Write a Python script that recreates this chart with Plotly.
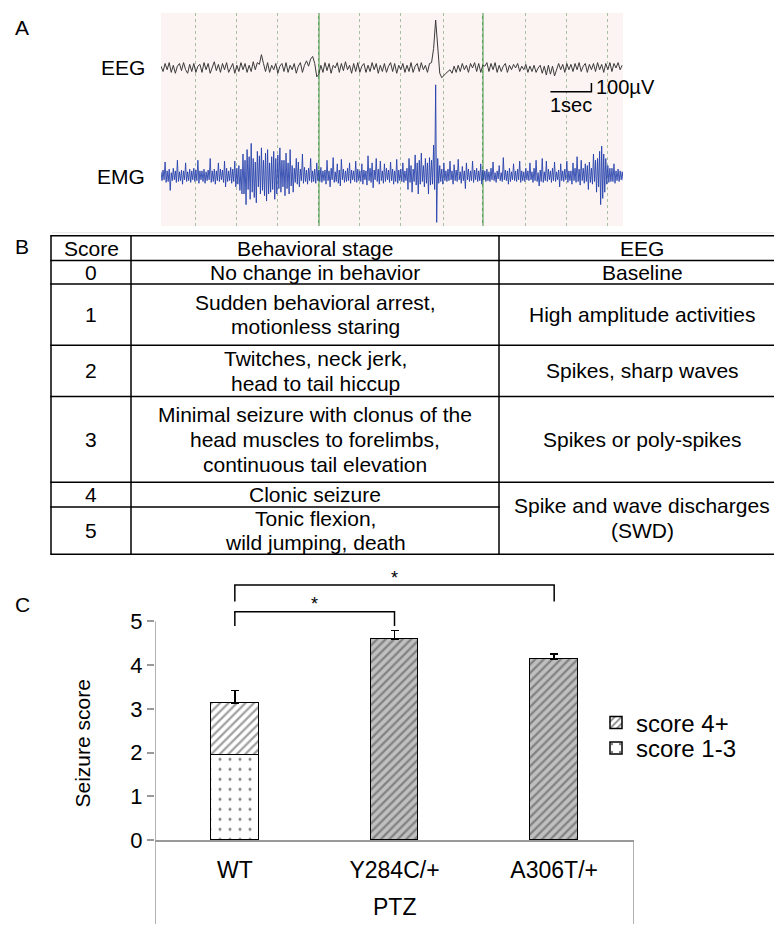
import plotly.graph_objects as go

W, H = 782, 929
FONT = "Liberation Sans, Arial, Helvetica, sans-serif"

# ---------------- Panel A data (µV, one value per 0.05 s) ----------------
DT = 0.05
EEG_UV = [
    20, -40, 50, -20, 60, -50, 30, -60, 20, 50, -30, 60, -20, -60, 40, -40, 50, -50, 20, 40,
    -50, 60, -20, 50, -60, 20, 70, -30, 40, -50, 50, -20, 60, -50, 10, 50, -60, 30, -40, 60,
    -20, 50, -50, 30, -40, 70, -20, 60, 40, 150, 50, -40, 60, -50, 30, -20, 50, -60, 20, 50,
    -40, 60, -50, 30, -20, 50, -60, 20, 60, -50, 30, 80, 20, 100, 130, 50, -100, -70, 30, -50,
    60, -30, 50, -60, 30, 0, 60, -50, 50, -30, 70, -20, 30, -60, 50, -40, 60, -50, 20, 50,
    -50, 30, -40, 60, -20, 50, -60, 30, -40, 50, -50, 20, 60, -40, 50, -60, 30, -20, 50, -50,
    30, -40, 60, -50, 20, 50, -40, 60, -20, 30, -50, 50, 60, 220, 540, 240, -60, -110, -80, -60,
    -40, -20, -60, 20, -50, 30, -40, 50, -20, 30, -50, 50, 0, 60, -40, 50, -50, 30, 20, 60,
    -40, 50, -20, 60, -50, 30, -40, 20, 50, -50, 30, -20, 40, 0, 50, -40, 20, -20, 40, -50,
    20, -40, 30, -50, 0, 30, -60, 20, -80, 30, -70, 20, -90, -30, 50, -20, 40, -50, 50, -20,
    40, -40, 50, -20, 60, -40, 20, 50, -50, 40, -20, 50, -40, 60, -20, 40, -50, 50, -20, 60,
    -40, 50, 0, 60, -20, 30,
]
# EMG: positive and negative peak per 0.05 s bin
EMG_HI = [
    50, 70, 160, 60, 80, 40, 90, 60, 180, 50, 70, 60, 150, 50, 80, 60, 90, 70, 180, 60,
    60, 80, 50, 70, 200, 60, 80, 60, 150, 80, 70, 170, 90, 60, 100, 80, 170, 90, 120, 80,
    250, 180, 300, 220, 370, 200, 160, 280, 230, 320, 180, 260, 300, 150, 220, 280, 200, 240, 320, 180,
    180, 260, 150, 300, 120, 90, 200, 160, 80, 250, 100, 70, 90, 200, 60, 80, 150, 70, 100, 60,
    70, 180, 60, 90, 210, 50, 140, 70, 190, 80, 60, 90, 150, 70, 60, 170, 80, 60, 140, 70,
    60, 230, 90, 150, 70, 200, 80, 170, 60, 140, 90, 70, 160, 80, 60, 190, 70, 80, 150, 60,
    90, 200, 120, 80, 240, 150, 180, 260, 120, 200, 150, 210, 180, 350, 1030, 200, 120, 80, 150, 60,
    80, 170, 60, 130, 70, 190, 50, 110, 60, 150, 80, 60, 170, 70, 90, 60, 140, 70, 60, 80,
    50, 90, 160, 40, 60, 120, 40, 210, 70, 60, 90, 50, 140, 60, 80, 170, 60, 50, 90, 60,
    150, 50, 90, 180, 40, 70, 200, 50, 170, 80, 60, 90, 160, 50, 70, 140, 60, 80, 170, 60,
    60, 150, 90, 220, 80, 180, 90, 140, 120, 160, 90, 250, 180, 200, 280, 340, 250, 200, 120, 90,
    90, 140, 60, 80, 60, 50,
]
EMG_LO = [
    -50, -40, -70, -60, -160, -50, -40, -70, -60, -50, -90, -40, -60, -50, -70, -40, -60, -50, -80, -40,
    -60, -80, -50, -40, -70, -60, -90, -50, -60, -40, -70, -120, -60, -50, -80, -60, -120, -90, -160, -200,
    -200, -320, -150, -260, -180, -240, -300, -120, -200, -160, -220, -280, -200, -180, -150, -260, -200, -140, -180, -120,
    -220, -140, -200, -110, -180, -70, -90, -120, -50, -80, -60, -90, -50, -70, -60, -80, -50, -60, -70, -50,
    -90, -50, -120, -40, -70, -60, -80, -110, -40, -70, -60, -50, -80, -40, -60, -70, -50, -60, -90, -40,
    -100, -50, -70, -130, -40, -60, -90, -50, -80, -60, -40, -70, -50, -90, -60, -80, -50, -60, -70, -50,
    -150, -70, -180, -60, -100, -200, -90, -60, -120, -80, -200, -100, -90, -150, -520, -80, -60, -90, -50, -60,
    -50, -40, -90, -50, -60, -40, -80, -50, -140, -40, -60, -50, -70, -40, -60, -50, -90, -40, -60, -50,
    -60, -40, -50, -70, -30, -50, -60, -40, -50, -90, -60, -40, -50, -60, -40, -70, -50, -60, -40, -50,
    -40, -70, -50, -60, -110, -60, -70, -50, -60, -40, -70, -50, -60, -40, -120, -50, -60, -40, -70, -50,
    -90, -50, -70, -60, -100, -50, -80, -60, -150, -70, -90, -60, -180, -120, -320, -250, -180, -90, -70, -60,
    -60, -80, -50, -60, -40, -50,
]
GRID_T = [0.83, 1.83, 2.85, 3.85, 4.85, 5.85, 6.88, 7.85, 8.88, 9.88, 10.9]
GREEN_T = [3.85, 7.85]
SCALE_SEC = 1.0
SCALE_UV = 100
TRACE_LABELS = ["EEG", "EMG"]

# ---------------- Panel B data ----------------
HEADERS = ["Score", "Behavioral stage", "EEG"]
SCORES = ["0", "1", "2", "3", "4", "5"]
BEHAVIOR = [
    "No change in behavior",
    "Sudden behavioral arrest,\nmotionless staring",
    "Twitches, neck jerk,\nhead to tail hiccup",
    "Minimal seizure with clonus of the\nhead muscles to forelimbs,\ncontinuous tail elevation",
    "Clonic seizure",
    "Tonic flexion,\nwild jumping, death",
]
EEG_DESC = [
    "Baseline",
    "High amplitude activities",
    "Spikes, sharp waves",
    "Spikes or poly-spikes",
    "Spike and wave discharges\n(SWD)",
    None,
]
EEG_SPAN = [1, 1, 1, 1, 2, 0]

# ---------------- Panel C data ----------------
GROUPS = ["WT", "Y284C/+", "A306T/+"]
SCORE_1_3 = [1.94, 0, 0]
SCORE_4P = [1.19, 4.58, 4.13]
SEM = [0.29, 0.21, 0.12]
SIG_PAIRS = [(0, 1, "*"), (0, 2, "*")]
Y_TICKS = [0, 1, 2, 3, 4, 5]

# ---------------- layout constants ----------------
def px(x):
    return x / W


def py(y):
    return 1 - y / H


A_X0, A_X1, A_Y0, A_Y1 = 153, 615, 5, 221
A_TMAX = 11.27
A_UVMAX = 2400
OFFSETS = [1780, 560]
SCALE_ANCHOR = (9.5, 1511)

ROW_EDGES = [231, 256, 280, 342, 394, 481, 506, 554]
COL_EDGES = [43, 123, 491, 777]
LINE_H = 25
TFS = 21

C_X0, C_X1 = 147, 626
C_Y0PX = 844
C_PX_PER_UNIT = 44.4
C_YMAX = 6.3
BRACKETS = [(5.22, 4.89), (5.83, 5.45)]
LEGEND_Y = [725, 751]

fig = go.Figure()

# ---------- Panel A traces ----------
emg_x, emg_y = [], []
for i, (hi, lo) in enumerate(zip(EMG_HI, EMG_LO)):
    t = i * DT
    emg_x += [t, t + DT / 2]
    emg_y += [hi + OFFSETS[1], lo + OFFSETS[1]]
fig.add_trace(go.Scatter(
    x=emg_x, y=emg_y, mode="lines",
    line=dict(color="rgba(30,60,170,0.85)", width=1), xaxis="x2", yaxis="y2",
    showlegend=False, hoverinfo="skip"))
t_eeg = [i * DT for i in range(len(EEG_UV))]
fig.add_trace(go.Scatter(
    x=t_eeg, y=[v + OFFSETS[0] for v in EEG_UV], mode="lines",
    line=dict(color="#3a3a3a", width=1), xaxis="x2", yaxis="y2",
    showlegend=False, hoverinfo="skip"))
st, su = SCALE_ANCHOR
fig.add_trace(go.Scatter(
    x=[st, st + SCALE_SEC, st + SCALE_SEC], y=[su, su, su + SCALE_UV], mode="lines",
    line=dict(color="black", width=1.5), xaxis="x2", yaxis="y2",
    showlegend=False, hoverinfo="skip", cliponaxis=False))

shapes = []
annotations = []

shapes.append(dict(type="rect", xref="x2 domain", yref="y2 domain", x0=0, x1=1, y0=0, y1=1,
                   fillcolor="#fcf4f3", line=dict(width=0), layer="below"))
for g in GREEN_T:
    shapes.append(dict(type="line", xref="x2", yref="y2 domain", x0=g, x1=g, y0=0, y1=1,
                       line=dict(color="#4f9f4f", width=1.5), layer="below"))
annotations.append(dict(x=st + SCALE_SEC, y=su + SCALE_UV / 2, xref="x2", yref="y2",
                        text="100µV", showarrow=False, xanchor="left", yanchor="middle",
                        xshift=3, font=dict(size=20, color="black")))
annotations.append(dict(x=st + SCALE_SEC / 2, y=su, xref="x2", yref="y2",
                        text="1sec", showarrow=False, xanchor="center", yanchor="top",
                        yshift=0, font=dict(size=20, color="black")))
for lab, off in zip(TRACE_LABELS, OFFSETS):
    annotations.append(dict(x=px(139), y=off, xref="paper", yref="y2", text=lab,
                            showarrow=False, xanchor="right", yanchor="middle",
                            font=dict(size=21, color="black")))
shapes.append(dict(type="line", xref="paper", yref="paper", x0=px(44), x1=1, y0=py(228), y1=py(228),
                   line=dict(color="#e4e4e4", width=1)))

# panel letters
for letter, yy in [("A", 20), ("B", 242), ("C", 605)]:
    annotations.append(dict(x=px(5), y=py(yy), xref="paper", yref="paper", text=letter,
                            showarrow=False, xanchor="left", yanchor="middle",
                            font=dict(size=21, color="black")))

# ---------- Panel B table ----------
nrows = len(ROW_EDGES) - 1
for e, yy in enumerate(ROW_EDGES):
    x_end = COL_EDGES[-1]
    if 1 <= e <= nrows - 1 and EEG_SPAN[e - 1] == 0:
        x_end = COL_EDGES[2]
    shapes.append(dict(type="line", xref="paper", yref="paper", x0=px(COL_EDGES[0] - 0.75),
                       x1=px(x_end + 0.75), y0=py(yy), y1=py(yy), line=dict(color="black", width=1.5)))
for xx in COL_EDGES:
    shapes.append(dict(type="line", xref="paper", yref="paper", x0=px(xx), x1=px(xx),
                       y0=py(ROW_EDGES[0]), y1=py(ROW_EDGES[-1]), line=dict(color="black", width=1.5)))


def cell_text(text, col, r0, r1):
    lines = text.split("\n")
    xc = (COL_EDGES[col] + COL_EDGES[col + 1]) / 2
    yc = (ROW_EDGES[r0] + ROW_EDGES[r1]) / 2
    n = len(lines)
    for i, ln in enumerate(lines):
        yl = yc + (i - (n - 1) / 2) * LINE_H
        annotations.append(dict(x=px(xc), y=py(yl), xref="paper", yref="paper", text=ln,
                                showarrow=False, xanchor="center", yanchor="middle",
                                font=dict(size=TFS, color="black")))


for c, h in enumerate(HEADERS):
    cell_text(h, c, 0, 1)
for i in range(len(SCORES)):
    cell_text(SCORES[i], 0, i + 1, i + 2)
    cell_text(BEHAVIOR[i], 1, i + 1, i + 2)
    if EEG_SPAN[i] > 0:
        cell_text(EEG_DESC[i], 2, i + 1, i + 1 + EEG_SPAN[i])

# ---------- Panel C bars ----------
xs = list(range(len(GROUPS)))
fig.add_trace(go.Bar(
    x=xs, y=SCORE_1_3, name="score 1-3", width=0.3, legend="legend2",
    marker=dict(color="white", line=dict(color="black", width=1.5),
                pattern=dict(shape=".", bgcolor="white", fgcolor="black", size=10, solidity=0.07,
                             fillmode="overlay")),
    hoverinfo="skip"))
fig.add_trace(go.Bar(
    x=xs, y=SCORE_4P, name="score 4+", width=0.3, legend="legend",
    marker=dict(color=["white", "#c0c0c0", "#c0c0c0"], line=dict(color="black", width=1.5),
                pattern=dict(shape="/", bgcolor=["white", "#c0c0c0", "#c0c0c0"],
                             fgcolor=["#111111", "#2e2e2e", "#2e2e2e"], size=6, solidity=0.38)),
    error_y=dict(type="data", array=SEM, arrayminus=[0] * len(SEM), symmetric=False,
                 color="black", thickness=1.5, width=4),
    hoverinfo="skip"))
# y axis line (0..5)
fig.add_trace(go.Scatter(x=[-0.5, -0.5], y=[Y_TICKS[0], Y_TICKS[-1]], mode="lines",
                         line=dict(color="#999999", width=1.5), showlegend=False,
                         hoverinfo="skip", cliponaxis=False))

# significance brackets
for (i, j, star), (top, leg) in zip(SIG_PAIRS, BRACKETS):
    shapes.append(dict(type="path", xref="x", yref="y",
                       path=f"M {i},{leg} L {i},{top} L {j},{top} L {j},{leg}",
                       line=dict(color="black", width=1.5)))
    annotations.append(dict(x=(i + j) / 2, y=top + 0.17, xref="x", yref="y", text=star,
                            showarrow=False, xanchor="center", yanchor="middle",
                            font=dict(size=18, color="black")))

# category box lines
c_ybot = py(C_Y0PX)
for xv in [-0.5, len(GROUPS) - 0.5]:
    shapes.append(dict(type="line", xref="x", yref="paper", x0=xv, x1=xv, y0=0, y1=c_ybot,
                       line=dict(color="#999999", width=1.5)))
annotations.append(dict(x=(len(GROUPS) - 1) / 2, y=py(912), xref="x", yref="paper", text="PTZ",
                        showarrow=False, xanchor="center", yanchor="middle",
                        font=dict(size=23, color="black")))
annotations.append(dict(x=px(75), y=py(746), xref="paper", yref="paper", text="Seizure score",
                        textangle=-90, showarrow=False, xanchor="center", yanchor="middle",
                        font=dict(size=21, color="black")))

c_ytop = py(C_Y0PX - C_YMAX * C_PX_PER_UNIT)

leg_common = dict(xanchor="left", yanchor="middle", font=dict(size=24, color="black"),
                  bgcolor="rgba(0,0,0,0)", borderwidth=0, itemclick=False, itemdoubleclick=False)

fig.update_layout(
    width=W, height=H, autosize=False,
    margin=dict(l=0, r=0, t=0, b=0),
    paper_bgcolor="white", plot_bgcolor="rgba(0,0,0,0)",
    font=dict(family=FONT, color="black"),
    barmode="stack", bargap=0,
    showlegend=True,
    legend=dict(x=px(588), y=py(LEGEND_Y[0]), **leg_common),
    legend2=dict(x=px(588), y=py(LEGEND_Y[1]), **leg_common),
    xaxis=dict(domain=[px(C_X0), px(C_X1)], range=[-0.5, len(GROUPS) - 0.5], anchor="y",
               tickvals=xs, ticktext=GROUPS, showline=True, linecolor="#999999", linewidth=1.5,
               ticks="", showgrid=False, zeroline=False, tickfont=dict(size=23, color="black"),
               ticklabelstandoff=8, fixedrange=True),
    yaxis=dict(domain=[c_ybot, c_ytop], range=[0, C_YMAX], anchor="x",
               tickvals=Y_TICKS, showline=False, ticks="outside", ticklen=7, tickwidth=1.5,
               tickcolor="#999999", showgrid=False, zeroline=False,
               tickfont=dict(size=22, color="black"), fixedrange=True),
    xaxis2=dict(domain=[px(A_X0), px(A_X1)], range=[0, A_TMAX], anchor="y2",
                tickvals=GRID_T, showticklabels=False, ticks="", showgrid=True,
                gridcolor="#a9bfa3", griddash="dot", gridwidth=1, zeroline=False, showline=False,
                fixedrange=True),
    yaxis2=dict(domain=[py(A_Y1), py(A_Y0)], range=[0, A_UVMAX], anchor="x2",
                showticklabels=False, ticks="", showgrid=False, zeroline=False, showline=False,
                fixedrange=True),
    shapes=shapes,
    annotations=annotations,
)

fig.write_html("out.html")
